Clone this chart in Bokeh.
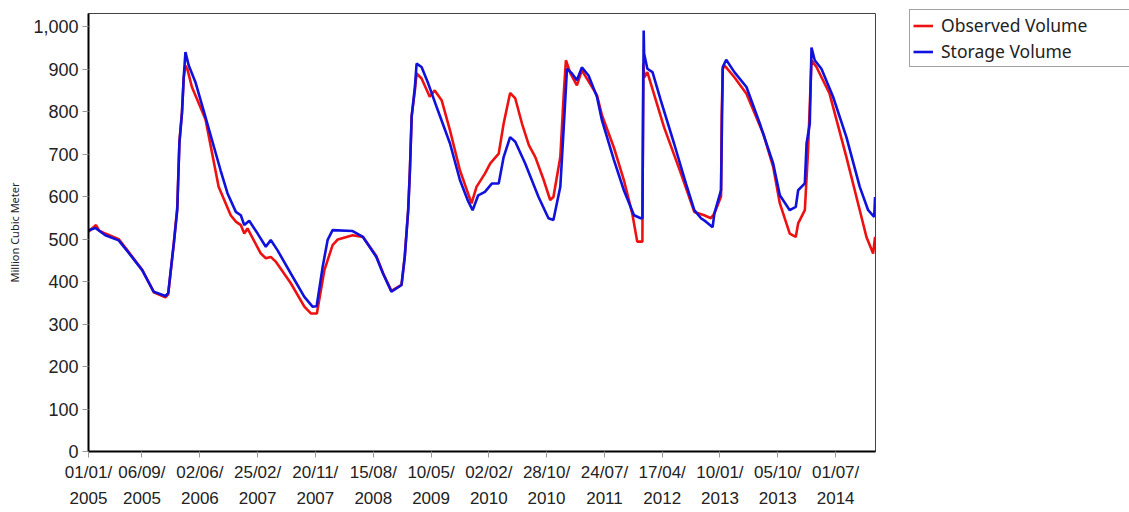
import pandas as pd
from bokeh.plotting import figure
from bokeh.models import (Range1d, FixedTicker, NumeralTickFormatter, Legend, LegendItem)
from bokeh.embed import file_html
from bokeh.resources import INLINE

# ---------------- data ----------------
observed_dates = [
    "2005-01-02", "2005-02-05", "2005-02-20", "2005-03-20", "2005-05-21", "2005-07-06",
    "2005-09-07", "2005-10-31", "2005-12-24", "2006-01-06", "2006-02-01", "2006-02-17",
    "2006-02-27", "2006-03-11", "2006-03-19", "2006-03-27", "2006-04-05", "2006-04-26",
    "2006-06-28", "2006-08-28", "2006-10-23", "2006-11-16", "2006-12-09", "2006-12-25",
    "2007-01-09", "2007-03-12", "2007-04-04", "2007-04-27", "2007-05-20", "2007-07-29",
    "2007-09-30", "2007-10-30", "2007-11-27", "2008-01-01", "2008-02-08", "2008-03-03",
    "2008-05-11", "2008-06-28", "2008-08-29", "2008-09-29", "2008-11-07", "2008-12-24",
    "2009-01-08", "2009-01-24", "2009-02-01", "2009-02-09", "2009-02-24", "2009-03-04",
    "2009-03-27", "2009-05-04", "2009-05-27", "2009-06-28", "2009-08-06", "2009-09-21",
    "2009-11-14", "2009-12-07", "2010-01-15", "2010-02-09", "2010-03-20", "2010-04-12",
    "2010-05-12", "2010-06-05", "2010-07-06", "2010-08-07", "2010-09-06", "2010-10-15",
    "2010-11-14", "2010-11-29", "2010-12-31", "2011-01-16", "2011-01-26", "2011-02-16",
    "2011-03-18", "2011-04-10", "2011-06-19", "2011-07-12", "2011-09-06", "2011-10-22",
    "2011-11-30", "2011-12-23", "2012-01-16", "2012-01-20", "2012-01-25", "2012-02-08",
    "2012-04-25", "2012-07-13", "2012-09-13", "2012-10-29", "2012-11-29", "2012-12-15",
    "2013-01-15", "2013-01-18", "2013-01-23", "2013-01-31", "2013-03-18", "2013-05-13",
    "2013-07-30", "2013-09-14", "2013-10-15", "2013-11-30", "2013-12-28", "2014-01-08",
    "2014-02-08", "2014-02-23", "2014-03-11", "2014-04-03", "2014-06-03", "2014-08-20",
    "2014-10-21", "2014-11-21", "2014-12-22", "2014-12-31",
]
observed_volume = [
    518, 533, 520, 513, 500, 470,
    428, 375, 363, 370, 490, 575,
    730, 800, 880, 908, 900, 858,
    782, 623, 556, 541, 533, 513,
    525, 466, 455, 458, 447, 396,
    341, 325, 325, 427, 486, 499,
    509, 505, 460, 420, 378, 392,
    460, 570, 665, 790, 850, 890,
    878, 835, 850, 827, 756, 662,
    584, 623, 654, 678, 701, 772,
    844, 831, 772, 721, 693, 639,
    592, 599, 693, 842, 921, 890,
    862, 897, 839, 792, 715, 639,
    560, 494, 494, 913, 881, 893,
    764, 654, 564, 556, 549, 560,
    600, 790, 900, 909, 881, 842,
    748, 670, 584, 513, 505, 537,
    568, 709, 921, 905, 842, 693,
    568, 505, 466, 505,
]

storage_dates = [
    "2005-01-02", "2005-02-02", "2005-03-20", "2005-05-21", "2005-07-06", "2005-09-07",
    "2005-10-31", "2005-12-24", "2006-01-06", "2006-02-01", "2006-02-17", "2006-02-27",
    "2006-03-11", "2006-03-19", "2006-03-27", "2006-04-11", "2006-05-12", "2006-06-28",
    "2006-09-06", "2006-10-08", "2006-11-16", "2006-12-09", "2006-12-25", "2007-01-17",
    "2007-02-25", "2007-04-04", "2007-04-27", "2007-05-28", "2007-07-29", "2007-09-30",
    "2007-11-07", "2007-11-26", "2007-12-24", "2008-01-16", "2008-02-08", "2008-05-11",
    "2008-06-28", "2008-08-29", "2008-09-29", "2008-11-07", "2008-12-24", "2009-01-08",
    "2009-01-24", "2009-02-01", "2009-02-09", "2009-02-24", "2009-03-04", "2009-03-27",
    "2009-04-27", "2009-06-05", "2009-08-06", "2009-09-21", "2009-10-30", "2009-11-19",
    "2009-12-15", "2010-01-15", "2010-02-17", "2010-03-20", "2010-04-12", "2010-05-12",
    "2010-06-05", "2010-07-21", "2010-09-21", "2010-11-06", "2010-11-29", "2010-12-31",
    "2011-01-16", "2011-01-31", "2011-02-23", "2011-03-18", "2011-04-10", "2011-05-11",
    "2011-06-19", "2011-07-12", "2011-09-06", "2011-10-22", "2011-12-08", "2012-01-08",
    "2012-01-16", "2012-01-22", "2012-01-24", "2012-02-08", "2012-03-03", "2012-04-10",
    "2012-06-11", "2012-08-05", "2012-09-13", "2012-10-14", "2012-11-06", "2012-12-07",
    "2012-12-15", "2013-01-15", "2013-01-23", "2013-02-08", "2013-03-18", "2013-05-13",
    "2013-07-14", "2013-09-14", "2013-10-15", "2013-11-30", "2013-12-28", "2014-01-08",
    "2014-02-08", "2014-02-16", "2014-03-03", "2014-03-11", "2014-03-26", "2014-04-26",
    "2014-06-19", "2014-08-20", "2014-10-21", "2014-11-29", "2014-12-27", "2014-12-31",
]
storage_volume = [
    521, 526, 509, 497, 468, 427,
    376, 366, 373, 490, 568, 726,
    797, 881, 940, 909, 870, 787,
    662, 608, 564, 556, 533, 543,
    513, 482, 498, 474, 419, 364,
    341, 342, 435, 498, 521, 519,
    505, 458, 419, 376, 392, 458,
    568, 662, 788, 858, 913, 905,
    866, 811, 725, 639, 588, 568,
    603, 611, 631, 631, 693, 740,
    729, 678, 599, 549, 545, 623,
    764, 901, 890, 874, 904, 885,
    835, 780, 686, 615, 556, 549,
    549, 991, 937, 901, 893, 827,
    725, 631, 568, 549, 541, 528,
    560, 615, 905, 922, 893, 858,
    772, 678, 603, 568, 576, 615,
    631, 725, 772, 951, 921, 901,
    835, 740, 623, 568, 552, 599,
]

tick_dates = ["2005-01-01", "2005-09-06", "2006-06-02", "2007-02-25", "2007-11-20",
              "2008-08-15", "2009-05-10", "2010-02-02", "2010-10-28", "2011-07-24",
              "2012-04-17", "2013-01-10", "2013-10-05", "2014-07-01"]
tick_labels = ["01/01/\n2005", "06/09/\n2005", "02/06/\n2006", "25/02/\n2007", "20/11/\n2007",
               "15/08/\n2008", "10/05/\n2009", "02/02/\n2010", "28/10/\n2010", "24/07/\n2011",
               "17/04/\n2012", "10/01/\n2013", "05/10/\n2013", "01/07/\n2014"]
y_ticks = [0, 100, 200, 300, 400, 500, 600, 700, 800, 900, 1000]

series_names = ["Observed Volume", "Storage Volume"]
# ----------------------------------------------------------------

obs_x = pd.to_datetime(observed_dates)
sto_x = pd.to_datetime(storage_dates)
tick_ms = [float(pd.Timestamp(d).value // 10**6) for d in tick_dates]

p = figure(frame_width=787, frame_height=438, x_axis_type="datetime", output_backend="svg",
           toolbar_location=None, min_border_left=88, min_border_right=0,
           min_border_top=13, min_border_bottom=61)
p.x_range = Range1d(pd.Timestamp("2005-01-01"), pd.Timestamp("2015-01-02"))
p.y_range = Range1d(0, 1031)
p.grid.visible = False
p.outline_line_color = "#444444"
p.outline_line_width = 1
p.background_fill_color = "white"
p.border_fill_color = "white"

r_obs = p.line(obs_x, observed_volume, line_color="#ee1111", line_width=2.6)
r_sto = p.line(sto_x, storage_volume, line_color="#1111dd", line_width=2.6)

xa = p.xaxis[0]
xa.ticker = FixedTicker(ticks=tick_ms)
xa.major_label_overrides = {t: l for t, l in zip(tick_ms, tick_labels)}
xa.minor_tick_line_color = None
xa.axis_line_width = 2
xa.axis_line_color = "black"
xa.major_tick_out = 6
xa.major_tick_in = 0
xa.major_tick_line_color = "#999999"
xa.major_label_text_font = "Liberation Sans"
xa.major_label_text_font_size = "17px"
xa.major_label_text_color = "#222222"
xa.major_label_text_line_height = 1.4
xa.major_label_standoff = 5

ya = p.yaxis[0]
ya.ticker = FixedTicker(ticks=y_ticks)
ya.formatter = NumeralTickFormatter(format="0,0")
ya.minor_tick_line_color = None
ya.axis_line_width = 2
ya.axis_line_color = "black"
ya.major_tick_out = 6
ya.major_tick_in = 0
ya.major_tick_line_color = "#999999"
ya.major_label_text_font = "Liberation Sans"
ya.major_label_text_font_size = "18px"
ya.major_label_text_color = "#222222"
ya.major_label_standoff = 4
ya.axis_label = "Million Cubic Meter"
ya.axis_label_text_font = "Noto Sans"
ya.axis_label_text_font_size = "11px"
ya.axis_label_text_font_style = "normal"
ya.axis_label_text_color = "#222222"
ya.axis_label_standoff = 8

legend = Legend(items=[LegendItem(label=series_names[0], renderers=[r_obs]),
                       LegendItem(label=series_names[1], renderers=[r_sto])],
                location=(34, 384))
legend.label_text_font = "Noto Sans"
legend.label_text_font_size = "17.5px"
legend.label_text_color = "#222222"
legend.glyph_width = 20
legend.glyph_height = 23
legend.label_height = 23
legend.label_width = 216
legend.label_standoff = 8
legend.spacing = 2
legend.padding = 3
legend.margin = 0
legend.border_line_color = "#444444"
legend.border_line_width = 1
legend.background_fill_alpha = 1
p.add_layout(legend, "right")

open("out.html", "w").write(file_html(p, INLINE))
